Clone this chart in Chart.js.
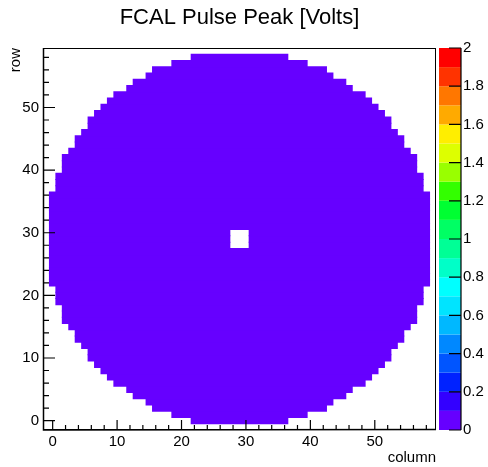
<!DOCTYPE html>
<html>
<head>
<meta charset="utf-8">
<title>FCAL Pulse Peak</title>
<script src="https://cdn.jsdelivr.net/npm/chart.js@4"></script>
<style>
  html, body { margin: 0; padding: 0; background: #fff; }
  canvas { display: block; }
</style>
</head>
<body>
<canvas id="fcal" width="488" height="467"></canvas>
<script>
// FCAL pulse peak map, one floating bar per row of blocks
// first / last filled column for rows 0..58
const rowStart = [22, 19, 16, 15, 13, 12, 10, 9, 8, 7, 6, 6, 5, 4, 4, 3, 2, 2, 2, 1, 1, 1,
  0, 0, 0, 0, 0, 0, 0, 0, 0, 0, 0, 0, 0, 0, 0,
  1, 1, 1, 2, 2, 2, 3, 4, 4, 5, 6, 6, 7, 8, 9, 10, 12, 13, 15, 16, 19, 22];
const rowEnd = [36, 39, 42, 43, 45, 46, 48, 49, 50, 51, 52, 52, 53, 54, 54, 55, 56, 56, 56, 57, 57, 57,
  58, 58, 58, 58, 58, 58, 58, 58, 58, 58, 58, 58, 58, 58, 58,
  57, 57, 57, 56, 56, 56, 55, 54, 54, 53, 52, 52, 51, 50, 49, 48, 46, 45, 43, 42, 39, 36];
// beam hole
const holeRows = [28, 29, 30];
const holeCols = [28, 30];
const pulsePeak = 0.05; // volts, every filled block lands in the first colour band

const axisTicks = [0, 2, 4, 6, 8, 10, 12, 14, 16, 18, 20, 22, 24, 26, 28, 30, 32, 34, 36, 38,
  40, 42, 44, 46, 48, 50, 52, 54, 56, 58];
const axisLabels = [0, 10, 20, 30, 40, 50];
const zTicks = [0, 0.2, 0.4, 0.6, 0.8, 1, 1.2, 1.4, 1.6, 1.8, 2];
const zMax = 2;
const palette = ['#6600ff', '#3300ff', '#0022ff', '#0055ff', '#0088ff', '#00b8ff', '#00e4ff', '#00ffff',
  '#00ffc8', '#00ff96', '#00ff64', '#00ff32', '#33ff00', '#99ff00', '#ddff00', '#ffee00',
  '#ffaa00', '#ff7700', '#ff3300', '#ff0000'];

Chart.defaults.font.family = '"Liberation Sans", Arial, Helvetica, sans-serif';
Chart.defaults.color = '#000';

const cellColor = palette[Math.min(palette.length - 1, Math.floor(pulsePeak / zMax * palette.length))];

const rows = rowStart.map((_, i) => i);
const leftPart = rows.map(r => ({
  y: r,
  x: [rowStart[r] - 0.5, holeRows.includes(r) ? holeCols[0] - 0.5 : rowEnd[r] + 0.5]
}));
const rightPart = holeRows.map(r => ({ y: r, x: [holeCols[1] + 0.5, rowEnd[r] + 0.5] }));

const barStyle = {
  backgroundColor: cellColor,
  borderWidth: 0,
  grouped: false,
  barPercentage: 1,
  categoryPercentage: 1,
  inflateAmount: 0.5
};

// ROOT-like frame, inward ticks and the colour palette
const rootFrame = {
  id: 'rootFrame',
  afterDraw(chart) {
    const { ctx, chartArea: a, scales: { x, y, z } } = chart;
    ctx.save();

    palette.forEach((col, i) => {
      const top = z.getPixelForValue((i + 1) * zMax / palette.length);
      const bot = z.getPixelForValue(i * zMax / palette.length);
      ctx.fillStyle = col;
      ctx.fillRect(z.left + 3, top, 22, bot - top);
    });

    ctx.strokeStyle = '#000';
    ctx.lineWidth = 1;
    ctx.strokeRect(a.left + 0.5, a.top + 0.5, a.right - a.left - 1, a.bottom - a.top - 1);
    ctx.lineWidth = 1.5;
    ctx.beginPath();
    ctx.moveTo(a.left + 0.5, a.top);
    ctx.lineTo(a.left + 0.5, a.bottom);
    ctx.lineTo(a.right, a.bottom - 0.5);
    ctx.stroke();

    ctx.lineWidth = 1.2;
    ctx.beginPath();
    axisTicks.forEach(v => {
      const major = axisLabels.includes(v);
      const px = x.getPixelForValue(v);
      ctx.moveTo(px, a.bottom);
      ctx.lineTo(px, a.bottom - (major ? 10 : 5));
      const py = y.getPixelForValue(v);
      ctx.moveTo(a.left, py);
      ctx.lineTo(a.left + (major ? 12 : 6), py);
    });
    const zx = z.left + 25;
    zTicks.forEach(v => {
      const py = z.getPixelForValue(v);
      ctx.moveTo(zx, py);
      ctx.lineTo(zx - 12, py);
    });
    ctx.moveTo(zx, a.top);
    ctx.lineTo(zx, a.bottom);
    ctx.stroke();
    ctx.restore();
  }
};

const hidden = { grid: { display: false, drawTicks: false, offset: false }, border: { display: false } };

new Chart(document.getElementById('fcal'), {
  type: 'bar',
  data: {
    datasets: [
      { data: leftPart, ...barStyle },
      { data: rightPart, ...barStyle }
    ]
  },
  options: {
    indexAxis: 'y',
    responsive: false,
    animation: false,
    layout: { padding: 0 },
    plugins: {
      legend: { display: false },
      tooltip: { enabled: false },
      title: {
        display: true,
        text: 'FCAL Pulse Peak [Volts]',
        fullSize: false,
        font: { size: 22, weight: 'normal' },
        color: '#000',
        padding: { top: 5, bottom: 16.6 }
      }
    },
    scales: {
      x: {
        type: 'linear', min: -1.5, max: 59.5, offset: false, ...hidden,
        afterBuildTicks: s => { s.ticks = axisTicks.map(v => ({ value: v })); },
        afterFit: s => { s.height = 37; },
        ticks: {
          autoSkip: false, maxRotation: 0, padding: 3, font: { size: 15 },
          callback: v => axisLabels.includes(v) ? String(v) : ''
        },
        title: { display: true, text: 'column', align: 'end', font: { size: 15 }, padding: { top: 0, bottom: 0 } }
      },
      y: {
        type: 'linear', min: -1.5, max: 59.5, offset: false, ...hidden,
        afterBuildTicks: s => { s.ticks = axisTicks.map(v => ({ value: v })); },
        afterFit: s => { s.width = 43; s.paddingTop = 0; s.paddingBottom = 0; },
        ticks: {
          autoSkip: false, padding: 4, font: { size: 15 },
          callback: v => axisLabels.includes(v) ? String(v) : ''
        },
        title: { display: true, text: 'row', align: 'end', font: { size: 15 }, padding: { top: 7, bottom: 0 } }
      },
      z: {
        type: 'linear', position: 'right', min: 0, max: zMax, offset: false, ...hidden,
        afterBuildTicks: s => { s.ticks = zTicks.map(v => ({ value: v })); },
        afterFit: s => { s.width = 52; s.paddingTop = 0; s.paddingBottom = 0; },
        ticks: { autoSkip: false, padding: 27, font: { size: 15 }, callback: v => String(+v.toFixed(1)) }
      }
    }
  },
  plugins: [rootFrame]
});
</script>
</body>
</html>
